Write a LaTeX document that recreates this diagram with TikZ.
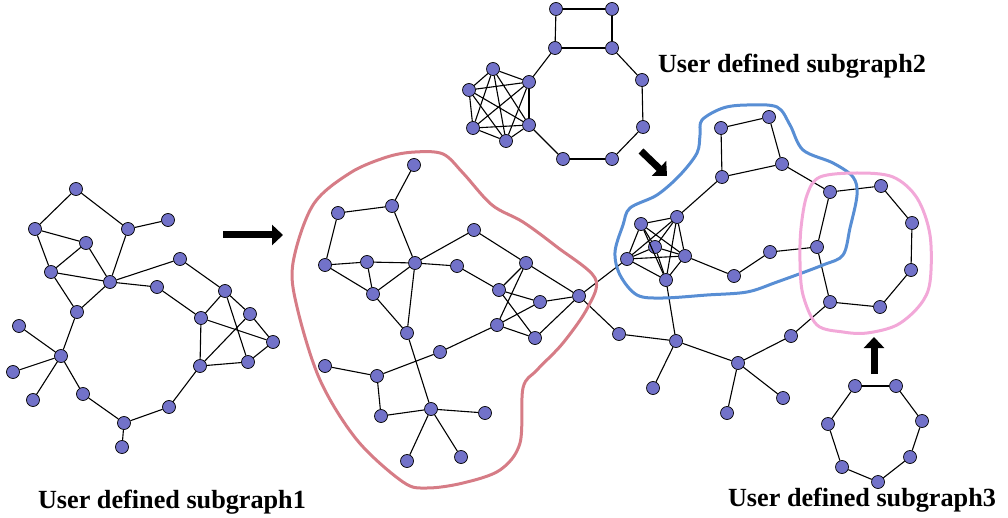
\documentclass[tikz,border=0pt]{standalone}
\usepackage{fontspec}
\setmainfont{Liberation Serif}
\usetikzlibrary{arrows.meta}
\definecolor{dotblue}{RGB}{114,114,201}
\definecolor{redhull}{RGB}{214,124,134}
\definecolor{bluehull}{RGB}{88,142,212}
\definecolor{pinkhull}{RGB}{242,168,216}
\tikzset{
  v/.style={circle,draw=black,fill=dotblue,line width=0.7pt,inner sep=0pt,minimum size=13pt},
  e/.style={line width=1.1pt},
  hull/.style={line width=3pt,smooth cycle,tension=0.55},
  bigarrow/.style={line width=7pt,-{Triangle[length=11pt,width=20pt]}},
  lab/.style={font=\fontsize{26.2}{30}\selectfont\bfseries,anchor=base}
}
\begin{document}
\begin{tikzpicture}[x=1pt,y=-1pt]
\useasboundingbox (0,0) rectangle (1008,518);
% left graph
\foreach \n/\x/\y in {l1/76/189,l2/35/229,l3/128/229,l4/168/220,l5/86/243,l6/51/272,
  l7/110/282,l8/180/259,l9/157/287,l10/77/312,l11/225/291,l12/201/318,l13/250/314,
  l14/273/342,l15/248/362,l16/200/366,l17/19/326,l18/61/356,l19/13/372,l20/33/400,
  l21/83/394,l22/169/407,l23/124/423,l24/122/447}
  \node[v] (\n) at (\x,\y) {};
\foreach \a/\b in {l1/l2,l1/l3,l3/l4,l2/l5,l2/l6,l5/l6,l5/l7,l3/l7,l6/l7,l6/l10,l7/l10,
  l7/l8,l7/l9,l8/l11,l9/l12,l11/l12,l11/l13,l11/l15,l12/l14,l12/l16,l13/l14,l13/l16,
  l14/l15,l15/l16,l16/l22,l22/l23,l23/l24,l23/l21,l21/l18,l18/l10,l18/l17,l18/l19,l18/l20}
  \draw[e] (\a) -- (\b);
% middle graph
\foreach \n/\x/\y in {m1/414/165,m2/392/206,m3/338/213,m4/474/230,m5/325/265,m6/367/262,
  m7/415/263,m8/457/266,m9/526/263,m10/373/294,m11/499/290,m12/540/302,m13/579/296,
  m14/407/333,m15/497/325,m16/535/338,m17/440/352,m18/325/366,m19/377/376,m20/431/409,
  m21/381/416,m22/485/413,m23/407/461,m24/461/457}
  \node[v] (\n) at (\x,\y) {};
\foreach \a/\b in {m1/m2,m2/m3,m2/m7,m3/m5,m5/m6,m6/m7,m5/m10,m6/m10,m10/m7,m7/m4,
  m7/m8,m7/m14,m10/m14,m4/m9,m8/m11,m9/m13,m9/m11,m9/m15,m11/m12,m11/m16,m15/m12,
  m15/m16,m12/m13,m16/m13,m15/m17,m17/m19,m19/m18,m19/m21,m21/m20,m14/m20,m20/m22,
  m20/m23,m20/m24}
  \draw[e] (\a) -- (\b);
% subgraph 2
\foreach \n/\x/\y in {t1/556/9,t2/612/9,t3/555/48,t4/612/48,t5/642/80,t6/643/127,
  t7/612/159,t8/563/159,t9/529/125,t10/529/82,k1/493/69,k2/469/90,k3/473/128,k4/506/141}
  \node[v] (\n) at (\x,\y) {};
\foreach \a/\b in {t1/t2,t1/t3,t2/t4,t3/t4,t4/t5,t5/t6,t6/t7,t7/t8,t8/t9,t10/t3}
  \draw[e] (\a) -- (\b);
\foreach \a [count=\i] in {k1,k2,k3,k4,t9,t10}
  \foreach \b [count=\j] in {k1,k2,k3,k4,t9,t10}
    {\ifnum\j>\i \draw[e] (\a) -- (\b); \fi}
% right graph
\foreach \n/\x/\y in {q1/721/128,q2/769/117,q3/722/177,q4/782/164,q5/830/192,q6/881/186,
  q7/912/223,q8/911/270,q9/880/307,q10/830/302,q11/817/247,q12/770/252,q13/734/276,
  c1/641/224,c2/677/217,c3/655/247,c4/627/259,c5/685/256,c6/666/280,
  p1/619/334,p2/676/341,p3/738/363,p4/791/336,p5/653/388,p6/727/413,p7/783/398}
  \node[v] (\n) at (\x,\y) {};
\foreach \a/\b in {q1/q2,q1/q3,q2/q4,q3/q4,q4/q5,q3/c2,c5/q13,q13/q12,q12/q11,q11/q5,
  q5/q6,q6/q7,q7/q8,q8/q9,q9/q10,q10/q11,m13/c4,m13/p1,c6/p2,p1/p2,p2/p3,p3/p4,p4/q10,
  p2/p5,p3/p6,p3/p7}
  \draw[e] (\a) -- (\b);
\foreach \a [count=\i] in {c1,c2,c3,c4,c5,c6}
  \foreach \b [count=\j] in {c1,c2,c3,c4,c5,c6}
    {\ifnum\j>\i \draw[e] (\a) -- (\b); \fi}
% subgraph 3
\foreach \n/\x/\y in {s1/855/386,s2/896/386,s3/922/421,s4/910/457,s5/878/482,
  s6/842/467,s7/828/424}
  \node[v] (\n) at (\x,\y) {};
\foreach \a/\b in {s1/s2,s2/s3,s3/s4,s4/s5,s5/s6,s6/s7,s7/s1}
  \draw[e] (\a) -- (\b);
% outlines
\draw[hull,redhull] plot coordinates {(415,152) (443,154) (463,173) (492,205) (523,222)
  (557,247) (595,278) (588,307) (563,343) (537,370) (523,388) (520,443) (500,470)
  (463,483) (427,488) (403,482) (357,440) (320,380) (297,307) (293,263) (313,205)
  (350,173) (387,157)};
\draw[hull,bluehull] plot coordinates {(702,120) (723,108) (747,105) (777,107) (790,125)
  (803,150) (833,163) (853,177) (857,195) (850,228) (843,255) (823,265) (777,282)
  (747,292) (707,295) (663,298) (637,295) (620,275) (615,252) (623,225) (630,208)
  (657,195) (680,175) (697,153) (700,135)};
\draw[hull,pinkhull] plot coordinates {(820,177) (857,173) (893,177) (917,198) (930,235)
  (930,282) (920,305) (897,325) (867,333) (843,332) (817,325) (803,295) (800,262)
  (801,228) (807,195)};
% arrows
\coordinate (a1) at (223,235); \coordinate (a2) at (283,235);
\coordinate (b1) at (641,151); \coordinate (b2) at (667,176);
\coordinate (c1t) at (874,374); \coordinate (c2t) at (874,337);
\draw[bigarrow] (a1) -- (a2);
\draw[bigarrow] (b1) -- (b2);
\draw[bigarrow] (c1t) -- (c2t);
% labels
\node[lab] (lab1) at (172,508) {User defined subgraph1};
\node[lab] (lab2) at (792,73) {User defined subgraph2};
\node[lab] (lab3) at (862,506) {User defined subgraph3};
\end{tikzpicture}
\end{document}
